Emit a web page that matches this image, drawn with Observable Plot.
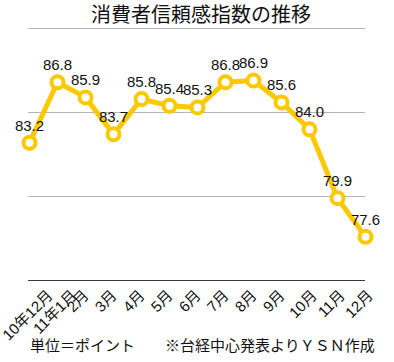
<!DOCTYPE html>
<html>
<head>
<meta charset="utf-8">
<script src="https://cdn.jsdelivr.net/npm/d3@7"></script>
<script src="https://cdn.jsdelivr.net/npm/@observablehq/plot@0.6"></script>
<style>
  html, body { margin: 0; padding: 0; background: #fff; }
  body { width: 394px; height: 362px; overflow: hidden; font-family: "Liberation Sans", "Noto Sans CJK JP", sans-serif; }
  #title { height: 20px; line-height: 20px; font-size: 20px; text-align: center; position: relative; top: 4px; padding-left: 8px; font-family: "Noto Sans CJK JP", sans-serif; color: #111; }
  #caption { height: 26px; line-height: 18px; font-size: 15px; padding-left: 30px; white-space: pre; font-family: "Noto Sans CJK JP", sans-serif; color: #111; }
  #chart svg { display: block; }
</style>
</head>
<body>
<div id="title">消費者信頼感指数の推移</div>
<div id="chart"></div>
<div id="caption"></div>
<script>
const months = ["10年12月", "11年1月", "2月", "3月", "4月", "5月", "6月", "7月", "8月", "9月", "10月", "11月", "12月"];
const values = [83.2, 86.8, 85.9, 83.7, 85.8, 85.4, 85.3, 86.8, 86.9, 85.6, 84.0, 79.9, 77.6];
const gridTicks = [80, 85, 90];
const baseTick = 75;
const captionLeft = "単位＝ポイント";
const captionRight = "※台経中心発表よりＹＳＮ作成";

const data = months.map((m, i) => ({month: m, value: values[i]}));
const yellow = "#fcc800";
const fontFamily = '"Liberation Sans", "Noto Sans CJK JP", sans-serif';

// approximate rendered length of a tick label at 15px
function labelLength(s) {
  let L = 0;
  for (const ch of s) L += /[0-9]/.test(ch) ? 8.34 : 15;
  return L;
}

const labelMarks = months.map(m => Plot.text([m], {
  x: d => d,
  frameAnchor: "bottom",
  rotate: -45,
  textAnchor: "end",
  dx: 0.5 * labelLength(m) - 7.5,
  dy: 16,
  fontSize: 15,
  fill: "#111"
}));

const chart = Plot.plot({
  width: 394,
  height: 316,
  marginLeft: 28,
  marginRight: 29,
  marginTop: 8,
  marginBottom: 56,
  style: {fontFamily, background: "transparent", overflow: "visible"},
  x: {type: "point", domain: months, padding: 0, axis: null},
  y: {domain: [75, 90], axis: null},
  marks: [
    Plot.ruleY(gridTicks, {stroke: "#b5b5b5", strokeWidth: 1}),
    Plot.ruleY([baseTick], {stroke: "#3a3a3a", strokeWidth: 1}),
    Plot.line(data, {x: "month", y: "value", stroke: yellow, strokeWidth: 5, strokeLinejoin: "round"}),
    Plot.dot(data, {x: "month", y: "value", r: 6, fill: "white", stroke: yellow, strokeWidth: 4}),
    Plot.text(data, {x: "month", y: "value", text: d => d.value.toFixed(1), dy: -17, fontSize: 15, fill: "#111"}),
    ...labelMarks
  ]
});
document.getElementById("chart").appendChild(chart);
document.getElementById("caption").textContent = captionLeft + "　　" + captionRight;
</script>
</body>
</html>
